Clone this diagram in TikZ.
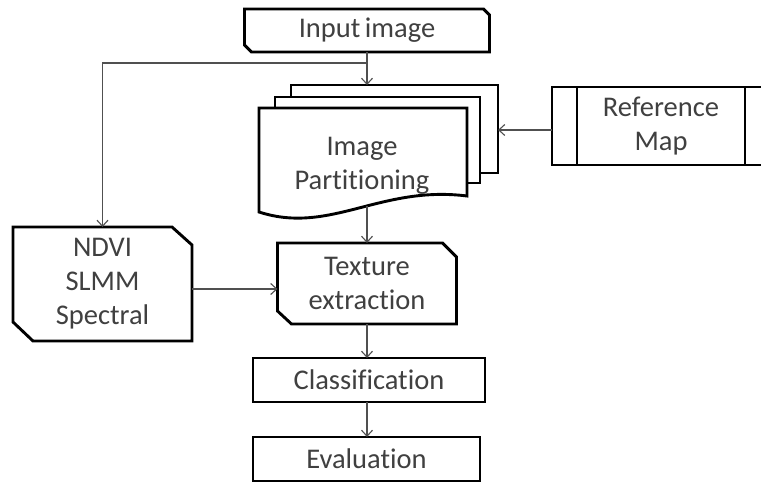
\documentclass[tikz,border=0pt]{standalone}
\usepackage{fontspec}
\setmainfont{Carlito}[Ligatures=NoCommon,Contextuals=NoAlternate]
\usetikzlibrary{arrows.meta}
\definecolor{txt}{HTML}{404040}
\definecolor{conncol}{HTML}{505050}
\newcommand{\nolig}{\kern0pt{}}
\begin{document}
\begin{tikzpicture}[x=1pt,y=1pt,
  outline/.style={draw=black, line width=2.9pt, line join=miter},
  page/.style={draw=black, line width=2.9pt, line join=miter, fill=white},
  boxnode/.style={inner sep=0pt, outer sep=0pt, text=txt, align=center, font=\fontsize{28.5}{34}\selectfont},
  conn/.style={draw=conncol, line width=1.1pt, -{Straight Barb[length=6pt,width=11pt,line width=1.1pt]}}]
\clip (0,0) rectangle (761,483);
\fill[white] (0,0) rectangle (761,483);

% Image partitioning stack (pages first, text after)
\coordinate (backtop) at (367,398);
\coordinate (backright) at (498,353);
\coordinate (wavept) at (367,277);
\draw[page] (291,310) rectangle (498,398);
\draw[page] (275,300) rectangle (480,386);
\draw[page] (259,271) -- (259,375) -- (467,375) -- (467,287) .. controls (380,298) and (330,248) .. (259,271) -- cycle;
\node[boxnode] (part) at (362,317) {Image\\Part\nolig i\nolig t\nolig i\nolig oning};

% Boxes
\node[boxnode, minimum width=245pt, minimum height=43pt] (input) at (367,452.5) {Input\hspace{-2pt} image};
\draw[outline] ([yshift=7pt]input.south west) -- (input.north west) -- ([xshift=-6pt]input.north east) -- ([yshift=-6pt]input.north east) -- (input.south east) -- ([xshift=7pt]input.south west) -- cycle;

\node[boxnode, minimum width=179pt, minimum height=114pt] (ndvi) at (102.5,199) {NDVI\\SLMM\\Spectral};
\draw[outline] ([yshift=19pt]ndvi.south west) -- (ndvi.north west) -- ([xshift=-20pt]ndvi.north east) -- ([yshift=-18pt]ndvi.north east) -- (ndvi.south east) -- ([xshift=20pt]ndvi.south west) -- cycle;

\node[boxnode, minimum width=179pt, minimum height=81pt] (texture) at (367,199.5) {Texture\\extract\nolig i\nolig on};
\draw[outline] ([yshift=13pt]texture.south west) -- (texture.north west) -- ([xshift=-14pt]texture.north east) -- ([yshift=-14pt]texture.north east) -- (texture.south east) -- ([xshift=14pt]texture.south west) -- cycle;

\node[boxnode, minimum width=232pt, minimum height=44pt] (class) at (369,103) {Classificat\nolig i\nolig on};
\draw[outline] (class.south west) rectangle (class.north east);
\node[boxnode, minimum width=227pt, minimum height=44pt] (eval) at (366.5,24) {Evaluat\nolig i\nolig on};
\draw[outline] (eval.south west) rectangle (eval.north east);

\node[inner sep=0pt, outer sep=0pt, minimum width=223pt, minimum height=78pt] (ref) at (663.5,357) {};
\draw[outline] (ref.south west) rectangle (ref.north east);
\draw[outline] ([xshift=25pt]ref.north west) -- ([xshift=25pt]ref.south west);
\draw[outline] ([xshift=193pt]ref.north west) -- ([xshift=193pt]ref.south west);
\node[boxnode] (reft) at (661,357) {Reference\\Map};

% Connectors
\draw[conn] (input.south) -- (backtop);
\draw[conn] ([yshift=-11pt]input.south) -| (ndvi.north);
\draw[conn] (ref.west |- backright) -- (backright);
\draw[conn] (wavept) -- (texture.north);
\draw[conn] ([yshift=-5pt]ndvi.east) -- ([yshift=-5pt]ndvi.east -| texture.west);
\draw[conn] (texture.south) -- (texture.south |- class.north);
\draw[conn] (texture.south |- class.south) -- (texture.south |- eval.north);
\end{tikzpicture}
\end{document}
